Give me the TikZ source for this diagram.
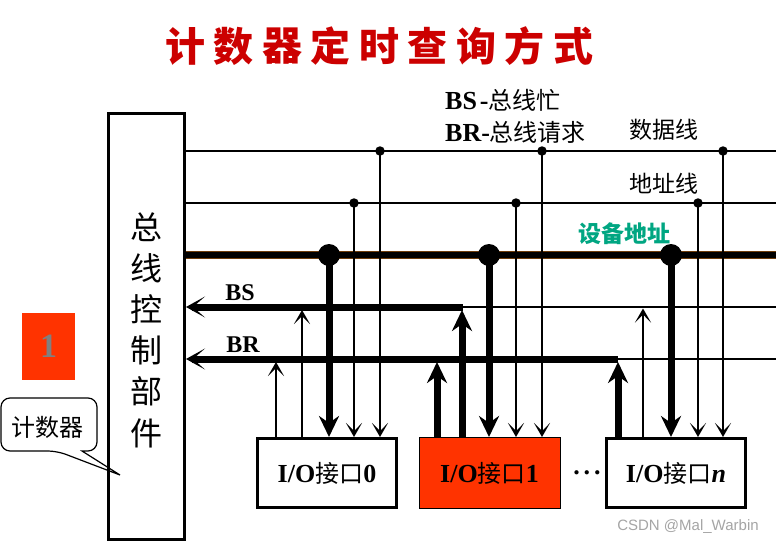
\documentclass[tikz,border=0pt]{standalone}
\usepackage{fontspec}
\setmainfont{Liberation Serif}
\setsansfont{Liberation Sans}
\newfontfamily\cjk{Noto Sans CJK SC}
\usetikzlibrary{arrows.meta}
\definecolor{titlered}{RGB}{204,0,0}
\definecolor{boxred}{RGB}{255,51,0}
\definecolor{devteal}{RGB}{0,166,130}
\definecolor{busbrown}{RGB}{110,60,10}
\definecolor{wmgray}{RGB}{165,165,165}
\definecolor{onegray}{RGB}{128,128,128}
\newcommand\latinbig{\bfseries\fontsize{26}{26}\selectfont}
\newcommand\cjkmid{\cjk\mdseries\fontsize{24}{24}\selectfont}
\newcommand\iolab[1]{{\latinbig I/O}{\cjkmid 接口}{\latinbig #1}}
\begin{document}
\begin{tikzpicture}[x=1pt,y=-1pt,
  busthin/.style={line width=2.8pt},
  thinarrow/.style={line width=2.8pt,-{Stealth[length=14pt,width=16pt,inset=8pt]}},
  fatarrow/.style={line width=7pt,-{Stealth[length=21pt,width=20pt,inset=7pt]}},
  busarrow/.style={line width=7pt,{Stealth[length=19pt,width=21pt,inset=12pt]}-},
  smalldot/.style={circle,fill,inner sep=0pt,minimum size=9.5pt},
  bigdot/.style={circle,fill,inner sep=0pt,minimum size=22pt},
  iobox/.style={draw,line width=3pt,minimum width=139pt,minimum height=69pt,inner sep=0pt},
]
\useasboundingbox[fill=white] (0,0) rectangle (776,543);

% title
\foreach \c [count=\i from 0] in {计,数,器,定,时,查,询,方,式}
  \node[font=\cjk\bfseries\fontsize{40}{40}\selectfont, text=titlered, inner sep=0pt]
    (title\i) at (185+48.5*\i,46) {\c};

% callout
\draw[line width=1.2pt, fill=white] (120,475) -- (82,451) [rounded corners=9pt] -- (97,451) -- (97,398) -- (1,398) -- (1,451) -- (57,451) [sharp corners] -- cycle;
\node[font=\cjk\fontsize{24}{24}\selectfont, inner sep=0pt] (callout) at (48,427) {计数器};

% red square
\node[fill=boxred, minimum width=53pt, minimum height=67pt, inner sep=0pt,
      text=onegray, font=\bfseries\fontsize{34}{34}\selectfont] (one) at (48.5,346) {1};

% control box
\node[draw, line width=3pt, minimum width=76pt, minimum height=426pt, inner sep=0pt] (ctrl) at (146.5,326.5) {};
\node[font=\cjk\fontsize{32}{41.2}\selectfont, align=center, inner sep=0pt] (ctrltext) at (146.5,330) {总\\线\\控\\制\\部\\件};

% buses
\coordinate (dR) at (776,151);
\coordinate (aR) at (776,203);
\coordinate (vR) at (776,255);
\coordinate (bsR) at (776,307);
\coordinate (brR) at (776,359);
\coordinate (bsend) at (463,307);
\coordinate (brend) at (618,359);
\draw[busthin] (ctrl.east |- dR) -- (dR);
\draw[busthin] (ctrl.east |- aR) -- (aR);
\draw[line width=8pt, busbrown] (ctrl.east |- vR) -- (vR);
\draw[line width=5.8pt, black] (ctrl.east |- vR) -- (vR);
\draw[busarrow] (ctrl.east |- bsend) -- (bsend);
\draw[busthin] (bsend) -- (bsR);
\draw[busarrow] (ctrl.east |- brend) -- (brend);
\draw[busthin] (brend) -- (brR);

% I/O boxes
\node[iobox] (io0) at (327,473) {\iolab{0}};
\node[draw=black, line width=1pt, fill=boxred, minimum width=141pt, minimum height=71pt, inner sep=0pt] (io1) at (489.5,473) {\iolab{1}};
\node[iobox] (ion) at (676,473) {\iolab{\textit{n}}};
\node[font=\latinbig, inner sep=0pt] (dots) at (587,473) {.\kern4pt.\kern4pt.};

% dots on buses
\node[bigdot] (v0) at (329,255) {};
\node[bigdot] (v1) at (489,255) {};
\node[bigdot] (vn) at (671,255) {};
\node[smalldot] (a0) at (354,203) {};
\node[smalldot] (a1) at (516,203) {};
\node[smalldot] (an) at (698,203) {};
\node[smalldot] (d0) at (380,151) {};
\node[smalldot] (d1) at (542,151) {};
\node[smalldot] (dn) at (723,151) {};

% downward connectors
\foreach \b/\k in {io0/0, io1/1, ion/n} {
  \draw[fatarrow] (v\k.center) -- (v\k.center |- \b.north);
  \draw[thinarrow] (a\k.center) -- (a\k.center |- \b.north);
  \draw[thinarrow] (d\k.center) -- (d\k.center |- \b.north);
}

% upward connectors
\coordinate (r0) at (276,362);
\coordinate (s0) at (302,310);
\coordinate (r1) at (437,362);
\coordinate (s1) at (462,310);
\coordinate (rn) at (618,362);
\coordinate (sn) at (643,308.5);
\draw[thinarrow] (r0 |- io0.north) -- (r0);
\draw[thinarrow] (s0 |- io0.north) -- (s0);
\draw[fatarrow] (r1 |- io1.north) -- (r1);
\draw[fatarrow] (s1 |- io1.north) -- (s1);
\draw[fatarrow] (rn |- ion.north) -- (rn);
\draw[thinarrow] (sn |- ion.north) -- (sn);

% labels
\node[font=\bfseries\fontsize{24}{24}\selectfont, inner sep=0pt] (lbs) at (240,293) {BS};
\node[font=\bfseries\fontsize{24}{24}\selectfont, inner sep=0pt] (lbr) at (243,345) {BR};
\node[anchor=base west, inner sep=0pt] (legbs) at (445,109) {{\latinbig BS\kern3pt-}{\cjkmid 总线忙}};
\node[anchor=base west, inner sep=0pt] (legbr) at (445,141) {{\latinbig BR-}{\cjkmid 总线请求}};
\node[anchor=east, font=\cjk\fontsize{23}{23}\selectfont, inner sep=0pt] (ldata) at (699,130) {数据线};
\node[anchor=east, font=\cjk\fontsize{23}{23}\selectfont, inner sep=0pt] (laddr) at (699,184) {地址线};
\node[font=\cjk\bfseries\fontsize{23}{23}\selectfont, text=devteal, inner sep=0pt] (ldev) at (624,234) {设备地址};

% watermark
\node[font=\sffamily\fontsize{15}{15}\selectfont, text=wmgray, inner sep=0pt] (wm) at (688,527) {CSDN @Mal\_Warbin};
\end{tikzpicture}
\end{document}
